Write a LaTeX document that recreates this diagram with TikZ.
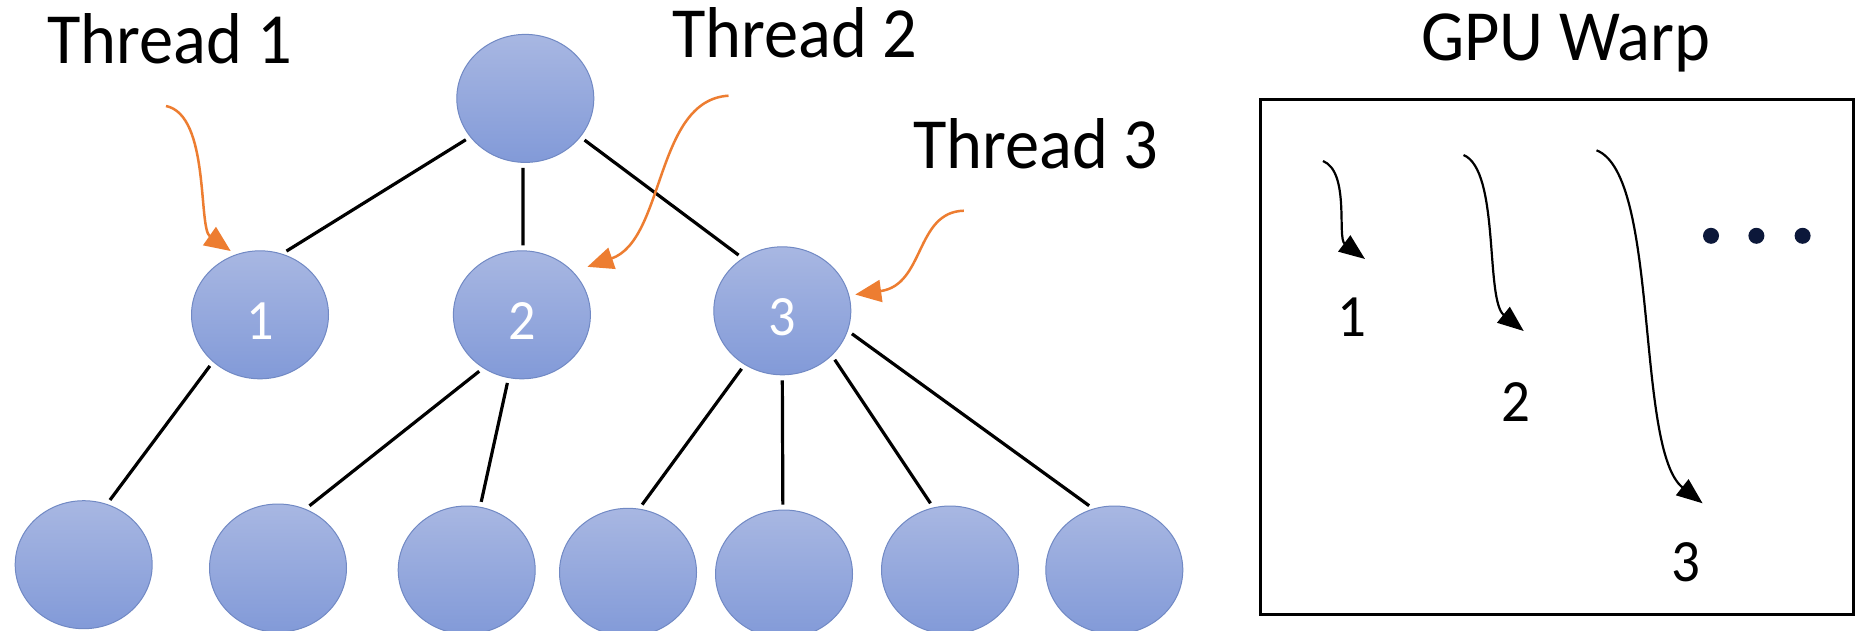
\documentclass[tikz,border=0pt]{standalone}
\usepackage{fontspec}
\setmainfont{Carlito}[FakeStretch=0.95]
\usetikzlibrary{shapes.geometric,arrows.meta}
\definecolor{orng}{RGB}{237,125,49}
\definecolor{nodeedge}{RGB}{113,137,196}
\definecolor{nodetop}{RGB}{168,183,226}
\definecolor{nodebot}{RGB}{130,154,216}
\definecolor{navy}{RGB}{12,24,58}
\begin{document}
\begin{tikzpicture}[x=1pt,y=-1pt,
  treenode/.style={ellipse, draw=nodeedge, line width=1pt, top color=nodetop, bottom color=nodebot,
    minimum width=137pt, minimum height=128pt, inner sep=0pt},
  treeedge/.style={line width=3.2pt, black, shorten >=5pt, shorten <=5pt},
  pointer/.style={orng, line width=2.5pt, -{Triangle[length=26pt,width=22pt]}},
  warparrow/.style={black, line width=2.2pt, -{Triangle[length=26pt,width=20pt]}},
  titletext/.style={font=\fontsize{72}{80}\selectfont, anchor=base west, inner sep=0pt},
  warpdigit/.style={font=\fontsize{60}{66}\selectfont, anchor=base, inner sep=0pt},
  nodedigit/.style={white, font=\fontsize{57}{60}\selectfont, yshift=-6pt},
  dotnode/.style={circle, fill=navy, minimum size=16pt, inner sep=0pt}]
\clip (0,0) rectangle (1868,630);
\fill[white] (0,0) rectangle (1868,630);

% titles
\node[titletext] (t1) at (47,63.3) {Thread 1};
\node[titletext] (t2) at (672,57.3) {Thread 2};
\node[titletext] (t3) at (913,168.3) {Thread 3};
\node[titletext] (gw) at (1421,60.7) {GPU Warp};

% tree nodes
\node[treenode] (root) at (525.3,98.4) {};
\node[treenode, label={[nodedigit]center:1}] (n1) at (260,314.8) {};
\node[treenode, label={[nodedigit]center:2}] (n2) at (521.9,314.8) {};
\node[treenode, label={[nodedigit]center:3}] (n3) at (782.3,310.8) {};
\node[treenode] (l1) at (83.7,564.7) {};
\node[treenode] (l2) at (278,568) {};
\node[treenode] (l3) at (466.7,570) {};
\node[treenode] (l4) at (628,572.3) {};
\node[treenode] (l5) at (784,574) {};
\node[treenode] (l6) at (950,570) {};
\node[treenode] (l7) at (1114.3,570) {};

% tree edges
\draw[treeedge] (root.215) -- (n1.70);
\draw[treeedge] (root.268) -- (n2.89);
\draw[treeedge] (root.325) -- (n3.127);
\draw[treeedge] (n1.225) -- (l1.69);
\draw[treeedge] (n2.234) -- (l2.65);
\draw[treeedge] (n2.258) -- (l3.78);
\draw[treeedge] (n3.235) -- (l4.80);
\draw[treeedge] (n3.270) -- (l5.91);
\draw[treeedge] (n3.318) -- (l6.105);
\draw[treeedge] (n3.343.5) -- (l7.109);

% orange pointers
\coordinate (o1) at (166,106);
\coordinate (o2) at (728.5,95.7);
\coordinate (o3) at (963.8,210.7);
\draw[pointer, shorten >=6pt] (o1) .. controls (210,115) and (198,228) .. (n1.112);
\draw[pointer, shorten >=15pt] (o2) .. controls (655,100) and (665,240) .. (n2.40);
\draw[pointer, shorten >=6pt] (o3) .. controls (915,212) and (925,285) .. (n3.13.5);

% GPU warp box
\draw[line width=3pt] (1260,99) rectangle (1853,614);
\coordinate (a1s) at (1323,161);
\coordinate (a1e) at (1365,259);
\coordinate (a2s) at (1463.5,155);
\coordinate (a2e) at (1523.7,331);
\coordinate (a3s) at (1596.5,150.3);
\coordinate (a3e) at (1702.6,503.3);
\draw[warparrow] (a1s) .. controls (1350,172) and (1337,238) .. (a1e);
\draw[warparrow] (a2s) .. controls (1500,170) and (1485,300) .. (a2e);
\draw[warparrow] (a3s) .. controls (1660,175) and (1635,450) .. (a3e);
\node[warpdigit] (w1) at (1352,336.2) {1};
\node[warpdigit] (w2) at (1515.5,421) {2};
\node[warpdigit] (w3) at (1686,581.7) {3};
\node[dotnode] (d1) at (1711,235.8) {};
\node[dotnode] (d2) at (1756.4,235.8) {};
\node[dotnode] (d3) at (1802.6,235.8) {};
\end{tikzpicture}
\end{document}
